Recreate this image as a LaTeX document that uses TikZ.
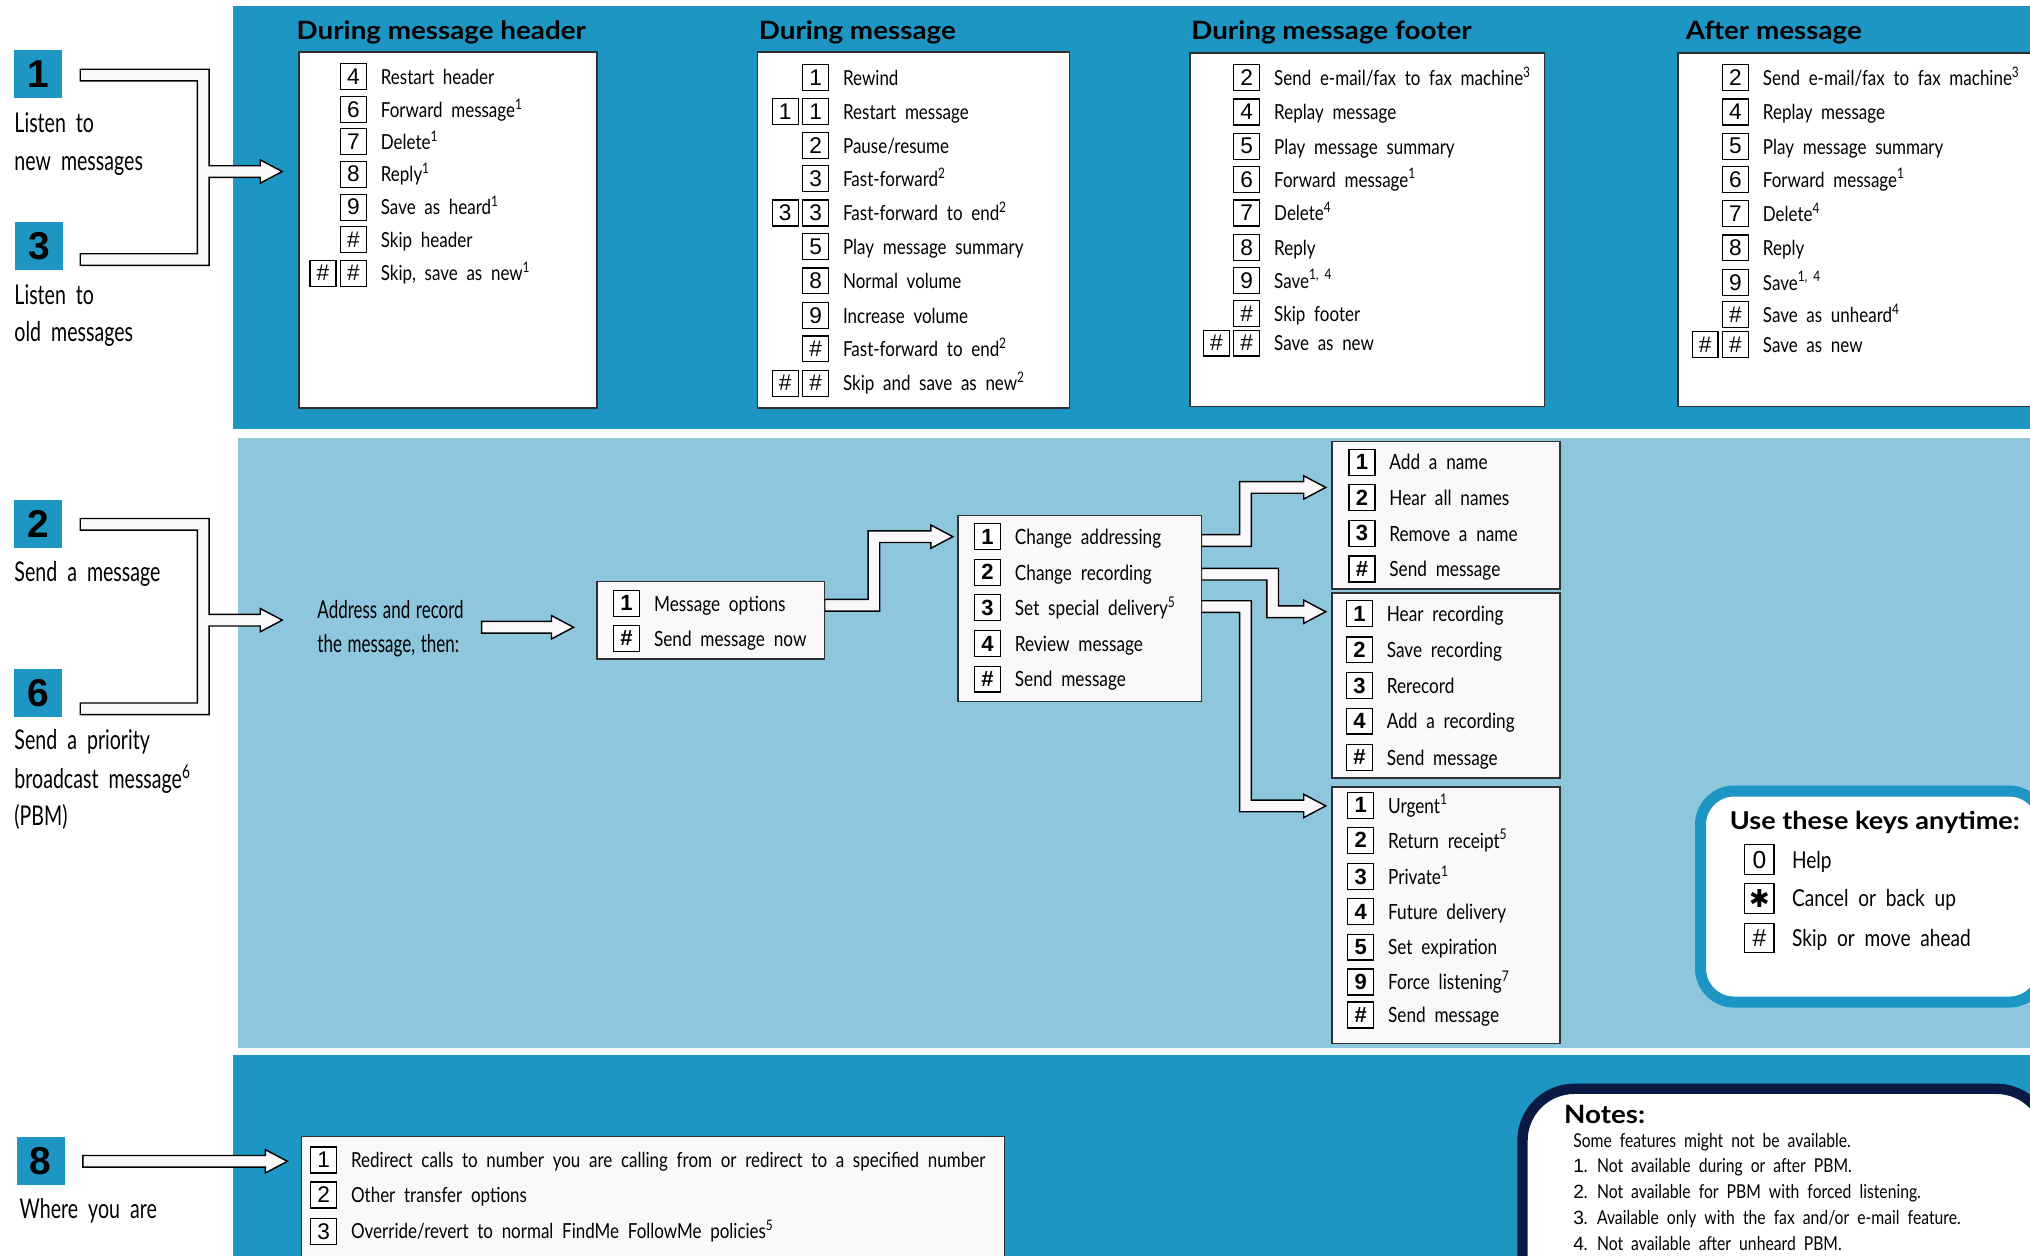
\documentclass[tikz,border=0pt]{standalone}
\usepackage{fontspec}
\setmainfont{Lato}
\newfontfamily\cf{Lato}[FakeStretch=0.82,WordSpace=2.0]
\newfontfamily\lf{Lato}[FakeStretch=0.72,WordSpace=2.0]
\newfontfamily\af{Lato}[FakeStretch=0.69,WordSpace=1.3]
\newfontfamily\kf{Liberation Sans}
\newfontfamily\tf{Lato}[FakeStretch=1.1]
\newfontfamily\djf{DejaVu Sans}
\usetikzlibrary{fit}
\definecolor{dblue}{HTML}{1E96C4}
\definecolor{lblue}{HTML}{8EC6DD}
\definecolor{navy}{HTML}{0B1A45}
\definecolor{boxw}{HTML}{FAF8FA}
\definecolor{edge}{HTML}{303030}
\newcommand\kr[5]{\node[keyb] (#1k) at (#2,#3) {#4};\node[itxt] (#1t) at ({#2+21},{#3+6}) {#5};}
\newcommand\krr[5]{\node[keyb] (#1d) at ({#2-23.5},#3) {#4};\kr{#1}{#2}{#3}{#4}{#5}}
\newcommand\ssp[1]{\textsuperscript{#1}}
% Z-shaped pipes: start x1,y1 ; vertical at xm ; tip x2,y2
\newcommand\zpipeup[5]{\draw[pipe] (#1,{#2-4.5}) -- ({#3-4.5},{#2-4.5}) -- ({#3-4.5},{#5-4.5}) -- ({#4-17},{#5-4.5}) -- ({#4-17},{#5-9}) -- (#4,#5) -- ({#4-17},{#5+9}) -- ({#4-17},{#5+4.5}) -- ({#3+4.5},{#5+4.5}) -- ({#3+4.5},{#2+4.5}) -- (#1,{#2+4.5}) -- cycle;}
\newcommand\zpipedown[5]{\draw[pipe] (#1,{#2-4.5}) -- ({#3+4.5},{#2-4.5}) -- ({#3+4.5},{#5-4.5}) -- ({#4-17},{#5-4.5}) -- ({#4-17},{#5-9}) -- (#4,#5) -- ({#4-17},{#5+9}) -- ({#4-17},{#5+4.5}) -- ({#3-4.5},{#5+4.5}) -- ({#3-4.5},{#2+4.5}) -- (#1,{#2+4.5}) -- cycle;}
\newcommand\spipe[3]{\draw[pipe] (#1,{#2-4.5}) -- ({#3-17},{#2-4.5}) -- ({#3-17},{#2-9}) -- (#3,#2) -- ({#3-17},{#2+9}) -- ({#3-17},{#2+4.5}) -- (#1,{#2+4.5}) -- cycle;}
\begin{document}
\begin{tikzpicture}[x=1pt,y=-1pt,
  frame/.style={draw=edge, line width=1.2pt, fill=white, inner sep=0pt},
  mframe/.style={frame, fill=boxw},
  keyb/.style={draw=black, line width=0.9pt, fill=white, minimum width=20pt, minimum height=20pt, inner sep=0pt, font=\kf\fontsize{17.5}{17.5}\selectfont},
  itxt/.style={anchor=base west, inner sep=0pt, font=\cf\fontsize{16}{18}\selectfont},
  ttl/.style={anchor=base west, inner sep=0pt, font=\tf\bfseries\fontsize{19.5}{20}\selectfont},
  numsq/.style={fill=dblue, minimum width=37pt, minimum height=37pt, inner sep=0pt, font=\kf\bfseries\fontsize{30}{30}\selectfont},
  lbl/.style={anchor=base west, inner sep=0pt, font=\lf\fontsize{21}{24}\selectfont},
  pipe/.style={draw=black, line width=1.1pt, fill=boxw, line join=miter},
  note/.style={anchor=base west, inner sep=0pt, font=\cf\fontsize{14.8}{16}\selectfont}]
\useasboundingbox (0,0) rectangle (1568,970);
\clip (0,0) rectangle (1568,970);
\fill[white] (0,0) rectangle (1568,970);
% bands
\fill[dblue] (180,5) rectangle (1580,331);
\fill[lblue] (184,338) rectangle (1580,809.5);
\fill[dblue] (180,815) rectangle (1580,980);

% ---------- left labels ----------
\node[numsq] (n1) at (29.5,57) {1};
\node[lbl] (l1a) at (11,102) {Listen to};
\node[lbl] (l1b) at (11,132) {new messages};
\node[numsq] (n3) at (30,190) {3};
\node[lbl] (l3a) at (11,235) {Listen to};
\node[lbl] (l3b) at (11,264) {old messages};
\node[numsq] (n2) at (29.5,405) {2};
\node[lbl] (l2a) at (11,449) {Send a message};
\node[numsq] (n6) at (29.5,535) {6};
\node[lbl] (l6a) at (11,579) {Send a priority};
\node[lbl] (l6b) at (11,609) {broadcast message\ssp{6}};
\node[lbl] (l6c) at (11,638) {(PBM)};
\node[numsq] (n8) at (31.5,896.5) {8};
\node[lbl] (l8a) at (15,941) {Where you are};

% brackets
\draw[pipe] (62,53.5) -- (161.5,53.5) -- (161.5,128) -- (201,128) -- (201,123.5) -- (218,132.5) -- (201,141.5) -- (201,137) -- (161.5,137) -- (161.5,205) -- (62,205) -- (62,196) -- (152.5,196) -- (152.5,62.5) -- (62,62.5) -- cycle;
\draw[pipe] (62,400.5) -- (161.5,400.5) -- (161.5,474.5) -- (201,474.5) -- (201,470) -- (218,479) -- (201,488) -- (201,483.5) -- (161.5,483.5) -- (161.5,552) -- (62,552) -- (62,543) -- (152.5,543) -- (152.5,409.5) -- (62,409.5) -- cycle;
\spipe{64}{897}{222}

% ---------- top band ----------
\node[ttl] (t1) at (229,30.5) {During message header};
\node[ttl] (t2) at (586,30.5) {During message};
\node[ttl] (t3) at (920,30.5) {During message footer};
\node[ttl] (t4) at (1302,30.5) {After message};
\node[frame, fit={(231,40) (461,315)}] (f1) {};
\node[frame, fit={(585,40) (826,315)}] (f2) {};
\node[frame, fit={(919,41) (1193,314)}] (f3) {};
\node[frame, fit={(1296,41) (1600,314)}] (f4) {};

\kr{a1}{273}{59}{4}{Restart header}
\kr{a2}{273}{84.5}{6}{Forward message\ssp{1}}
\kr{a3}{273}{109.5}{7}{Delete\ssp{1}}
\kr{a4}{273}{134.5}{8}{Reply\ssp{1}}
\kr{a5}{273}{160}{9}{Save as heard\ssp{1}}
\kr{a6}{273}{185}{\#}{Skip header}
\krr{a7}{273}{211}{\#}{Skip, save as new\ssp{1}}

\kr{b1}{630}{60}{1}{Rewind}
\krr{b2}{630}{86}{1}{Restart message}
\kr{b3}{630}{112.5}{2}{Pause/resume}
\kr{b4}{630}{138}{3}{Fast-forward\ssp{2}}
\krr{b5}{630}{164.5}{3}{Fast-forward to end\ssp{2}}
\kr{b6}{630}{190.5}{5}{Play message summary}
\kr{b7}{630}{217}{8}{Normal volume}
\kr{b8}{630}{243.5}{9}{Increase volume}
\kr{b9}{630}{269.5}{\#}{Fast-forward to end\ssp{2}}
\krr{b10}{630}{296}{\#}{Skip and save as new\ssp{2}}

\kr{c1}{963}{60}{2}{Send e-mail/fax to fax machine\ssp{3}}
\kr{c2}{963}{86.5}{4}{Replay message}
\kr{c3}{963}{113}{5}{Play message summary}
\kr{c4}{963}{138.5}{6}{Forward message\ssp{1}}
\kr{c5}{963}{164.5}{7}{Delete\ssp{4}}
\kr{c6}{963}{191}{8}{Reply}
\kr{c7}{963}{216.5}{9}{Save\ssp{1, 4}}
\kr{c8}{963}{242}{\#}{Skip footer}
\krr{c9}{963}{265}{\#}{Save as new}

\kr{d1}{1340.5}{60}{2}{Send e-mail/fax to fax machine\ssp{3}}
\kr{d2}{1340.5}{86.5}{4}{Replay message}
\kr{d3}{1340.5}{113}{5}{Play message summary}
\kr{d4}{1340.5}{138.5}{6}{Forward message\ssp{1}}
\kr{d5}{1340.5}{165}{7}{Delete\ssp{4}}
\kr{d6}{1340.5}{191.5}{8}{Reply}
\kr{d7}{1340.5}{218}{9}{Save\ssp{1, 4}}
\kr{d8}{1340.5}{243}{\#}{Save as unheard\ssp{4}}
\krr{d9}{1340.5}{266}{\#}{Save as new}

% ---------- middle band ----------
\node[lbl, font=\af\fontsize{19}{22}\selectfont] (ad1) at (245,478) {Address and record};
\node[lbl, font=\af\fontsize{19}{22}\selectfont] (ad2) at (245,504) {the message, then:};
\spipe{372}{484.5}{443}

\zpipeup{637}{467.5}{675}{736}{414.5}
\zpipeup{928}{417.5}{962}{1024}{376.5}
\zpipedown{928}{443.5}{983}{1024}{472.5}
\zpipedown{928}{468.5}{962}{1024}{622.5}

\node[mframe, fit={(461,449) (637,509)}] (fmo) {};
\node[mframe, fit={(740,398) (928,542)}] (fca) {};
\node[mframe, fit={(1029,341) (1205,455)}] (fa) {};
\node[mframe, fit={(1029,458) (1205,601)}] (fb) {};
\node[mframe, fit={(1029,608) (1205,806)}] (fc) {};

\begin{scope}[keyb/.append style={font=\kf\bfseries\fontsize{17}{17}\selectfont}, itxt/.append style={font=\cf\fontsize{16.2}{19}\selectfont}]
\kr{m1}{484}{466}{1}{Message options}
\kr{m2}{484}{493}{\#}{Send message now}

\kr{e1}{762.75}{414.5}{1}{Change addressing}
\kr{e2}{762.75}{442}{2}{Change recording}
\kr{e3}{762.75}{469.5}{3}{Set special delivery\ssp{5}}
\kr{e4}{762.75}{497}{4}{Review message}
\kr{e5}{762.75}{524.5}{\#}{Send message}

\kr{g1}{1052}{357}{1}{Add a name}
\kr{g2}{1052}{384.5}{2}{Hear all names}
\kr{g3}{1052}{412}{3}{Remove a name}
\kr{g4}{1052}{439.5}{\#}{Send message}

\kr{h1}{1050}{474}{1}{Hear recording}
\kr{h2}{1050}{502}{2}{Save recording}
\kr{h3}{1050}{529.5}{3}{Rerecord}
\kr{h4}{1050}{557}{4}{Add a recording}
\kr{h5}{1050}{585}{\#}{Send message}

\kr{i1}{1051}{622}{1}{Urgent\ssp{1}}
\kr{i2}{1051}{649}{2}{Return receipt\ssp{5}}
\kr{i3}{1051}{677}{3}{Private\ssp{1}}
\kr{i4}{1051}{704}{4}{Future delivery}
\kr{i5}{1051}{731.5}{5}{Set expiration}
\kr{i6}{1051}{758.5}{9}{Force listening\ssp{7}}
\kr{i7}{1051}{784}{\#}{Send message}
\end{scope}

% keys anytime
\draw[line width=8.5pt, draw=dblue, fill=white, rounded corners=26pt] (1313.5,611) rectangle (1578,774);
\node[ttl, font=\tf\bfseries\fontsize{19}{20}\selectfont] (ukt) at (1336,641) {Use these keys anytime:};
\begin{scope}[keyb/.append style={minimum width=22.5pt, minimum height=23pt, font=\kf\fontsize{19}{19}\selectfont}, itxt/.append style={font=\cf\fontsize{18}{20}\selectfont}]
\node[keyb] (u1k) at (1359,664) {0};
\node[itxt] (u1t) at (1384,670.5) {Help};
\node[keyb, font=\djf\bfseries\fontsize{19}{19}\selectfont] (u2k) at (1359,694) {✱};
\node[itxt] (u2t) at (1384,700.5) {Cancel or back up};
\node[keyb] (u3k) at (1359,724.5) {\#};
\node[itxt] (u3t) at (1384,731) {Skip or move ahead};
\end{scope}

% ---------- bottom band ----------
\node[mframe, fit={(233,878) (776,1000)}] (fbot) {};
\kr{r1}{250}{896}{1}{Redirect calls to number you are calling from or redirect to a specified number}
\kr{r2}{250}{923}{2}{Other transfer options}
\kr{r3}{250}{951}{3}{Override/revert to normal FindMe FollowMe policies\ssp{5}}

\draw[line width=8pt, draw=navy, fill=white, rounded corners=40pt] (1176,841) rectangle (1582,1010);
\node[ttl] (nt) at (1208,868) {Notes:};
\node[note] (nl0) at (1215,886) {Some features might not be available.};
\node[note] (nl1) at (1215,906) {{\kf 1}. Not available during or after PBM.};
\node[note] (nl2) at (1215,926) {{\kf 2}. Not available for PBM with forced listening.};
\node[note] (nl3) at (1215,946) {{\kf 3}. Available only with the fax and/or e-mail feature.};
\node[note] (nl4) at (1215,966) {{\kf 4}. Not available after unheard PBM.};
\end{tikzpicture}
\end{document}
